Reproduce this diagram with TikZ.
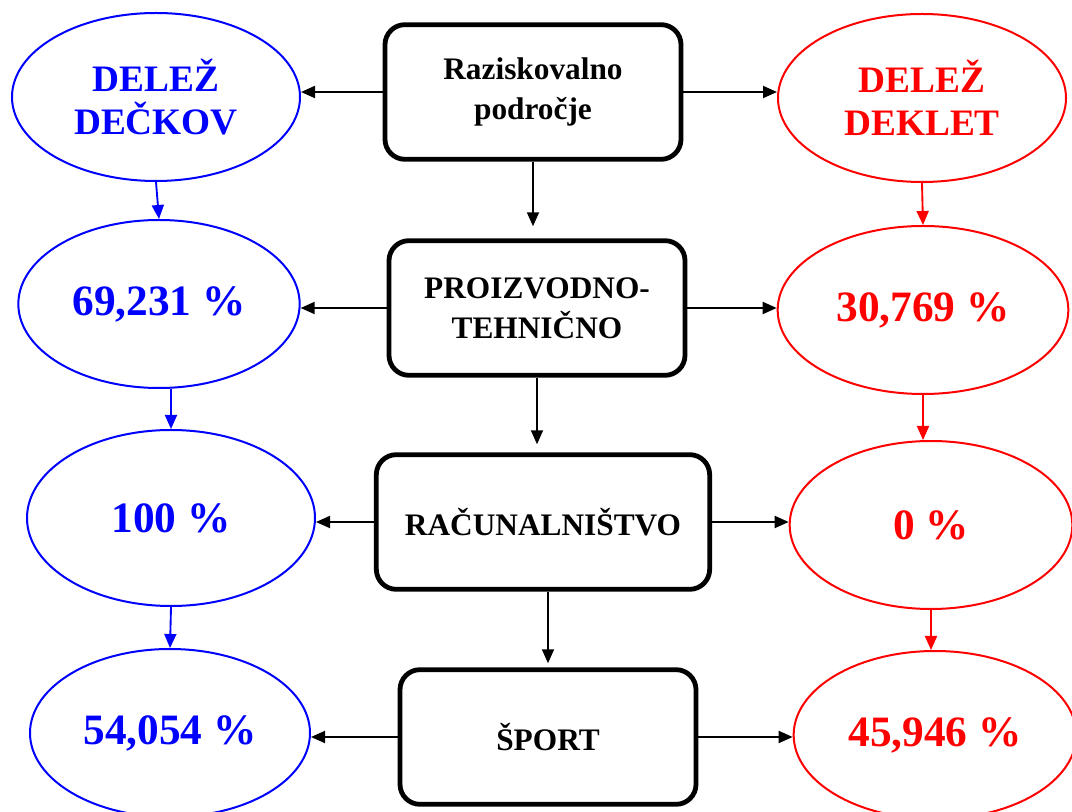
\documentclass[tikz,border=0pt]{standalone}
\usepackage{fontspec}
\setmainfont{Liberation Serif}
\usetikzlibrary{shapes.geometric, arrows.meta, positioning}
\definecolor{boyblue}{RGB}{0,0,255}
\definecolor{girlred}{RGB}{255,0,0}
\tikzset{
  area/.style={rectangle, rounded corners=15pt, line width=3.6pt, draw=black,
    minimum width=222pt, minimum height=101pt, inner sep=0pt, align=center,
    font=\fontsize{23.5}{30}\selectfont\bfseries},
  boys/.style={ellipse, draw=boyblue, line width=1.5pt, text=boyblue,
    minimum width=216pt, minimum height=126pt, inner sep=0pt, align=center,
    font=\fontsize{32.5}{34}\selectfont\bfseries},
  girls/.style={ellipse, draw=girlred, line width=1.5pt, text=girlred,
    minimum width=216pt, minimum height=126pt, inner sep=0pt, align=center,
    font=\fontsize{32.5}{34}\selectfont\bfseries},
  share/.style={font=\fontsize{28}{32}\selectfont\bfseries},
  arr/.style={-{Triangle[length=10.5pt, width=9pt]}, line width=1.4pt, draw=black},
  arrb/.style={arr, draw=boyblue},
  arrr/.style={arr, draw=girlred},
}
\begin{document}
\begin{tikzpicture}[x=0.75pt, y=-0.75pt]
  \useasboundingbox (0,0) rectangle (1072,812);

  % middle column
  \node[area] (raz) at (533,92) {Raziskovalno\\področje};
  \node[area] (teh) at (537,308) {PROIZVODNO-\\TEHNIČNO};
  \node[area, minimum width=250pt] (rac) at (543,522) {RAČUNALNIŠTVO};
  \node[area] (spo) at (548,737) {ŠPORT};

  % boys
  \node[boys, share] (dec) at (156,97) {DELEŽ\\DEČKOV};
  \node[boys, minimum width=211pt] (d1) at (159,304) {69,231 \%};
  \node[boys, minimum height=132pt] (d2) at (171,518) {100 \%};
  \node[boys, minimum width=210pt] (d3) at (170,733) {54,054 \%};

  % girls
  \node[girls, share] (dek) at (922,98) {DELEŽ\\DEKLET};
  \node[girls, minimum width=218pt] (g1) at (923,310) {30,769 \%};
  \node[girls, minimum width=212pt] (g2) at (931,525) {0 \%};
  \node[girls, minimum width=212pt] (g3) at (935,735) {45,946 \%};

  \draw[arr] (raz.west) -- (raz.west -| dec.east);
  \draw[arr] (raz.east) -- (raz.east -| dek.west);
  \draw[arr, shorten >=9pt] (raz.south) -- (raz.south |- teh.north);
  \draw[arr] (teh.west) -- (teh.west -| d1.east);
  \draw[arr] (teh.east) -- (teh.east -| g1.west);
  \draw[arr, shorten >=6pt] (teh.south) -- (teh.south |- rac.north);
  \draw[arr] (rac.west) -- (rac.west -| d2.east);
  \draw[arr] (rac.east) -- (rac.east -| g2.west);
  \draw[arr, shorten >=3pt] (rac.south -| spo.north) -- (spo.north);
  \draw[arr] (spo.west) -- (spo.west -| d3.east);
  \draw[arr] (spo.east) -- (spo.east -| g3.west);

  \draw[arrb] (dec.south) -- (d1.north);
  \draw[arrb] (d2.north |- d1.south) -- (d2.north);
  \draw[arrb] (d2.south) -- (d3.north);
  \draw[arrr] (dek.south) -- (g1.north);
  \draw[arrr] (g1.south) -- (g1.south |- g2.north);
  \draw[arrr] (g2.south) -- (g2.south |- g3.north);
\end{tikzpicture}
\end{document}
